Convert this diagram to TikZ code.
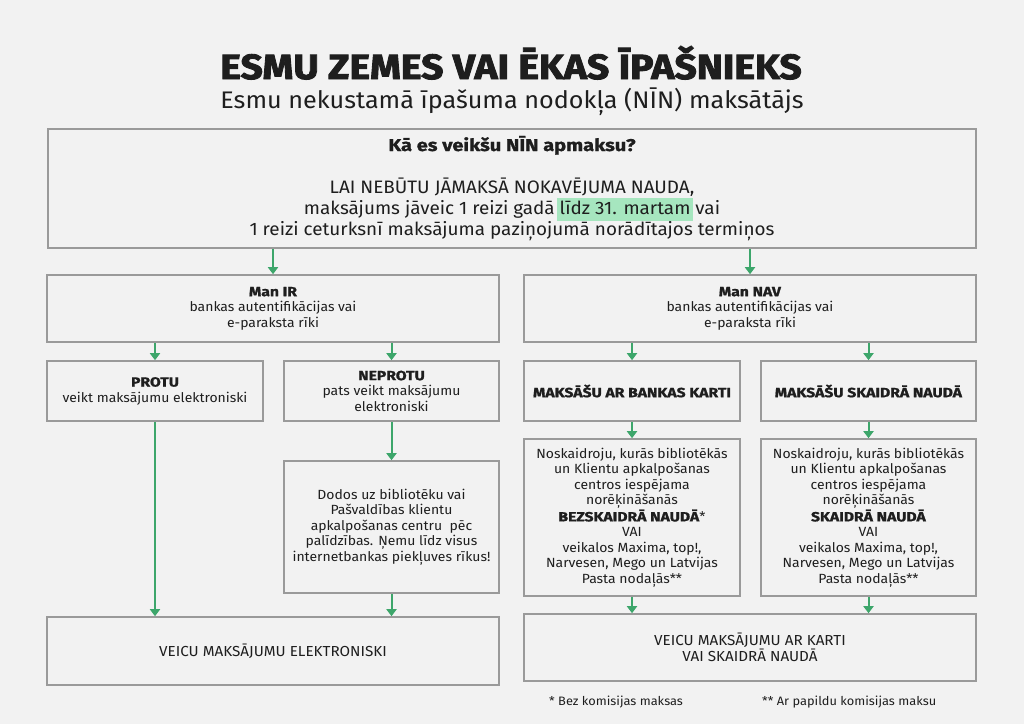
\documentclass[tikz,border=0pt]{standalone}
\usepackage{fontspec}
\setmainfont{Fira Sans}[FakeStretch=1.05, BoldFeatures={FakeStretch=1.18, FakeBold=1.2}]
\newfontfamily\titlefont{Fira Sans}[BoldFeatures={FakeStretch=1.12, FakeBold=2.5}]
\usetikzlibrary{arrows.meta}
\definecolor{bg}{HTML}{F2F2F2}
\definecolor{bord}{HTML}{9A9A9A}
\definecolor{arr}{HTML}{3DA66B}
\definecolor{hl}{HTML}{A6E6BF}
\definecolor{txt}{HTML}{1E1E1E}
\tikzset{
  box/.style={draw=bord, line width=1.6pt, fill=bg, inner sep=0pt, align=center, text=txt,
    font=\fontsize{13.3}{15.5}\selectfont},
  flow/.style={draw=arr, line width=2pt, -{Triangle[length=7pt,width=10pt]}},
  plain/.style={inner sep=0pt, text=txt},
}
\begin{document}
\begin{tikzpicture}[x=1pt,y=-1pt]
\fill[bg] (0,0) rectangle (1024,724);
\useasboundingbox (0,0) rectangle (1024,724);

% titles
\node[plain, anchor=base] (title) at (511,79) {\titlefont\fontsize{35}{40}\selectfont\bfseries ESMU ZEMES VAI ĒKAS ĪPAŠNIEKS};
\node[plain, anchor=base] (subtitle) at (512,108) {\fontsize{24}{28}\selectfont Esmu nekustamā īpašuma nodokļa (NĪN) maksātājs};

% top box
\node[box, minimum width=928, minimum height=119] (top) at (512,188.5) {};
\node[plain, anchor=base] (q) at (512,151) {\fontsize{17}{20}\selectfont\bfseries Kā es veikšu NĪN apmaksu?};
\node[plain, anchor=base] (l1) at (512,193) {\fontsize{18}{21}\selectfont LAI NEBŪTU JĀMAKSĀ NOKAVĒJUMA NAUDA,};
\node[plain, anchor=base] (l2) at (512,214) {\fontsize{18}{21}\selectfont maksājums jāveic 1 reizi gadā\hspace{2pt}{\setlength{\fboxsep}{3pt}\colorbox{hl}{\vphantom{lg}līdz 31. martam}}\hspace{2pt}vai};
\node[plain, anchor=base] (l3) at (512,235) {\fontsize{18}{21}\selectfont 1 reizi ceturksnī maksājuma paziņojumā norādītajos termiņos};

% second level
\node[box, minimum width=452, minimum height=67] (ir) at (273,308.5)
  {\textbf{Man IR}\\bankas autentifikācijas vai\\e-paraksta rīki};
\node[box, minimum width=452, minimum height=67] (nav) at (750,308.5)
  {\textbf{Man NAV}\\bankas autentifikācijas vai\\e-paraksta rīki};

% third level
\node[box, minimum width=216, minimum height=60] (protu) at (155,391)
  {\textbf{PROTU}\\veikt maksājumu elektroniski};
\node[box, minimum width=215, minimum height=60] (neprotu) at (391.5,391)
  {\textbf{NEPROTU}\\pats veikt maksājumu\\elektroniski};
\node[box, minimum width=216, minimum height=60] (karti) at (632,391)
  {\textbf{MAKSĀŠU AR BANKAS KARTI}};
\node[box, minimum width=215, minimum height=60] (skaidra) at (868.5,391)
  {\textbf{MAKSĀŠU SKAIDRĀ NAUDĀ}};

% fourth level
\node[box, minimum width=215, minimum height=132] (dodos) at (391.5,527)
  {Dodos uz bibliotēku vai\\Pašvaldības klientu\\apkalpošanas centru\ \ pēc\\palīdzības. Ņemu līdz visus\\internetbankas piekļuves rīkus!};
\node[box, minimum width=216, minimum height=157] (bez) at (632,517.5)
  {Noskaidroju, kurās bibliotēkās\\un Klientu apkalpošanas\\centros iespējama\\norēķināšanās\\\textbf{BEZSKAIDRĀ NAUDĀ}*\\VAI\\veikalos Maxima, top!,\\Narvesen, Mego un Latvijas\\Pasta nodaļās**};
\node[box, minimum width=215, minimum height=157] (ska) at (868.5,517.5)
  {Noskaidroju, kurās bibliotēkās\\un Klientu apkalpošanas\\centros iespējama\\norēķināšanās\\\textbf{SKAIDRĀ NAUDĀ}\\VAI\\veikalos Maxima, top!,\\Narvesen, Mego un Latvijas\\Pasta nodaļās**};

% bottom
\node[box, minimum width=452, minimum height=68, font=\fontsize{14.5}{16.5}\selectfont] (bl) at (273,651)
  {VEICU MAKSĀJUMU ELEKTRONISKI};
\node[box, minimum width=452, minimum height=67, font=\fontsize{14.5}{16.5}\selectfont] (br) at (750,647.5)
  {VEICU MAKSĀJUMU AR KARTI\\VAI SKAIDRĀ NAUDĀ};

% footnotes
\node[plain, anchor=base west, font=\fontsize{12.2}{14}\selectfont] (fn1) at (549,705) {* Bez komisijas maksas};
\node[plain, anchor=base west, font=\fontsize{12.2}{14}\selectfont] (fn2) at (762,705) {** Ar papildu komisijas maksu};

% connectors
\draw[flow] (top.south -| ir) -- (ir.north);
\draw[flow] (top.south -| nav) -- (nav.north);
\draw[flow] (ir.south -| protu) -- (protu.north);
\draw[flow] (ir.south -| neprotu) -- (neprotu.north);
\draw[flow] (nav.south -| karti) -- (karti.north);
\draw[flow] (nav.south -| skaidra) -- (skaidra.north);
\draw[flow] (neprotu.south) -- (dodos.north);
\draw[flow] (karti.south) -- (bez.north);
\draw[flow] (skaidra.south) -- (ska.north);
\draw[flow] (protu.south) -- (protu.south |- bl.north);
\draw[flow] (dodos.south) -- (dodos.south |- bl.north);
\draw[flow] (bez.south) -- (bez.south |- br.north);
\draw[flow] (ska.south) -- (ska.south |- br.north);
\end{tikzpicture}
\end{document}
